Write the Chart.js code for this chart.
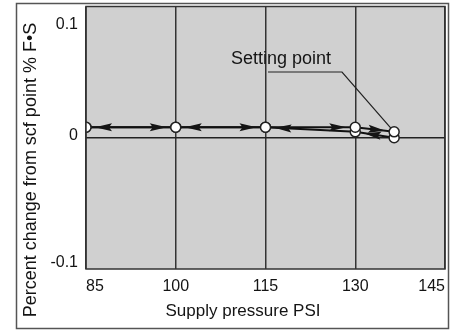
<!DOCTYPE html>
<html>
<head>
<meta charset="utf-8">
<script src="https://cdn.jsdelivr.net/npm/chart.js@4.4.1/dist/chart.umd.min.js"></script>
<style>
  body { margin: 0; background: #fff; }
  canvas { display: block; }
</style>
</head>
<body>
<canvas id="pressureChart" width="453" height="330"></canvas>
<script>
// Supply pressure (PSI) against percent change from scf point
const pressureTicks = [85, 100, 115, 130, 145];
const changeTicks = [-0.1, 0, 0.1];
const risingPressure = [85, 100, 115, 130, 136.5];
const risingChange = [0.008, 0.008, 0.008, 0.008, 0.0045];
const fallingPressure = [136.5, 130, 115, 100, 85];
const fallingChange = [0, 0.0045, 0.008, 0.008, 0.008];
const settingLabel = 'Setting point';
const xTitle = 'Supply pressure PSI';
const yTitle = 'Percent change from scf point % F\u2022S';

const family = 'Arial, "Liberation Sans", Helvetica, sans-serif';
const ink = '#141414';

function toPoints(xs, ys) {
    return xs.map((x, i) => ({ x: x, y: ys[i] }));
}

// arrowhead pointing along p0 -> p1, tip stopped short of p1's circle
function drawHead(ctx, p0, p1) {
    const dx = p1.x - p0.x, dy = p1.y - p0.y;
    const len = Math.hypot(dx, dy);
    if (len < 30) return;
    const ux = dx / len, uy = dy / len;
    const tipX = p1.x - ux * 9, tipY = p1.y - uy * 9;
    const baseX = tipX - ux * 17, baseY = tipY - uy * 17;
    ctx.beginPath();
    ctx.moveTo(tipX, tipY);
    ctx.lineTo(baseX - uy * 4, baseY + ux * 4);
    ctx.lineTo(baseX + ux * 3, baseY + uy * 3);
    ctx.lineTo(baseX + uy * 4, baseY - ux * 4);
    ctx.closePath();
    ctx.fill();
}

const chartDecor = {
    id: 'chartDecor',
    beforeDraw(chart) {
        const { ctx, chartArea: a } = chart;
        ctx.save();
        ctx.fillStyle = '#d0d0d0';
        ctx.fillRect(a.left, a.top, a.right - a.left, a.bottom - a.top);
        // outer frame
        ctx.strokeStyle = '#555';
        ctx.lineWidth = 1.5;
        ctx.strokeRect(16.5, 3.5, 432, 325);
        ctx.restore();
    },
    afterDatasetsDraw(chart) {
        const ctx = chart.ctx;
        ctx.save();
        ctx.fillStyle = ink;
        chart.data.datasets.forEach((ds, di) => {
            const pts = chart.getDatasetMeta(di).data;
            for (let i = 1; i < pts.length; i++) drawHead(ctx, pts[i - 1], pts[i]);
        });
        ctx.restore();
    },
    afterDraw(chart) {
        const { ctx, chartArea: a, scales } = chart;
        ctx.save();
        // plot border
        ctx.strokeStyle = '#333';
        ctx.lineWidth = 1.5;
        ctx.strokeRect(a.left, a.top, a.right - a.left, a.bottom - a.top);

        // y tick labels, kept inside the plot height
        ctx.fillStyle = ink;
        ctx.font = '16px ' + family;
        ctx.textAlign = 'right';
        ctx.textBaseline = 'middle';
        changeTicks.forEach(v => {
            const py = Math.min(Math.max(scales.y.getPixelForValue(v) - 2, a.top + 18), a.bottom - 6);
            ctx.fillText(String(v), a.left - 8, py);
        });

        // axis titles
        ctx.textAlign = 'center';
        ctx.font = '17px ' + family;
        ctx.fillText(xTitle, 243, 311);
        ctx.save();
        ctx.translate(31, 170);
        ctx.rotate(-Math.PI / 2);
        ctx.font = '18px ' + family;
        ctx.fillText(yTitle, 0, 0);
        ctx.restore();

        // setting point callout
        const target = chart.getDatasetMeta(0).data[risingPressure.length - 1];
        ctx.font = '18px ' + family;
        ctx.textBaseline = 'alphabetic';
        ctx.fillText(settingLabel, 281, 64);
        const sx = 342, sy = 72;
        const dx = target.x - sx, dy = target.y - sy, d = Math.hypot(dx, dy);
        ctx.strokeStyle = '#222';
        ctx.lineWidth = 1.2;
        ctx.beginPath();
        ctx.moveTo(268, sy);
        ctx.lineTo(sx, sy);
        ctx.lineTo(target.x - dx / d * 5, target.y - dy / d * 5);
        ctx.stroke();
        ctx.restore();
    }
};

const lineStyle = {
    showLine: true,
    borderColor: '#111',
    borderWidth: 2,
    pointRadius: 5,
    pointBackgroundColor: '#fff',
    pointBorderColor: '#222',
    pointBorderWidth: 1.5
};

new Chart(document.getElementById('pressureChart'), {
    type: 'scatter',
    data: {
        datasets: [
            Object.assign({ label: 'Rising', data: toPoints(risingPressure, risingChange) }, lineStyle),
            Object.assign({ label: 'Falling', data: toPoints(fallingPressure, fallingChange) }, lineStyle)
        ]
    },
    options: {
        responsive: false,
        animation: false,
        events: [],
        layout: { padding: { top: 4, right: 6, bottom: 0, left: 0 } },
        plugins: { legend: { display: false }, tooltip: { enabled: false } },
        scales: {
            x: {
                type: 'linear',
                min: 85,
                max: 145,
                afterBuildTicks: s => { s.ticks = pressureTicks.map(v => ({ value: v })); },
                afterFit: s => { s.height = 61; },
                ticks: { font: { size: 16, family: family }, color: ink, align: 'inner', padding: 8 },
                grid: { color: '#333', lineWidth: 1.5, drawTicks: false },
                border: { display: false }
            },
            y: {
                min: -0.1,
                max: 0.1,
                afterBuildTicks: s => { s.ticks = changeTicks.map(v => ({ value: v })); },
                afterFit: s => { s.width = 86; },
                ticks: { display: false },
                grid: {
                    color: c => (c.tick && c.tick.value === 0 ? '#222' : 'rgba(0,0,0,0)'),
                    lineWidth: 1.5,
                    drawTicks: false
                },
                border: { display: false }
            }
        }
    },
    plugins: [chartDecor]
});
</script>
</body>
</html>
